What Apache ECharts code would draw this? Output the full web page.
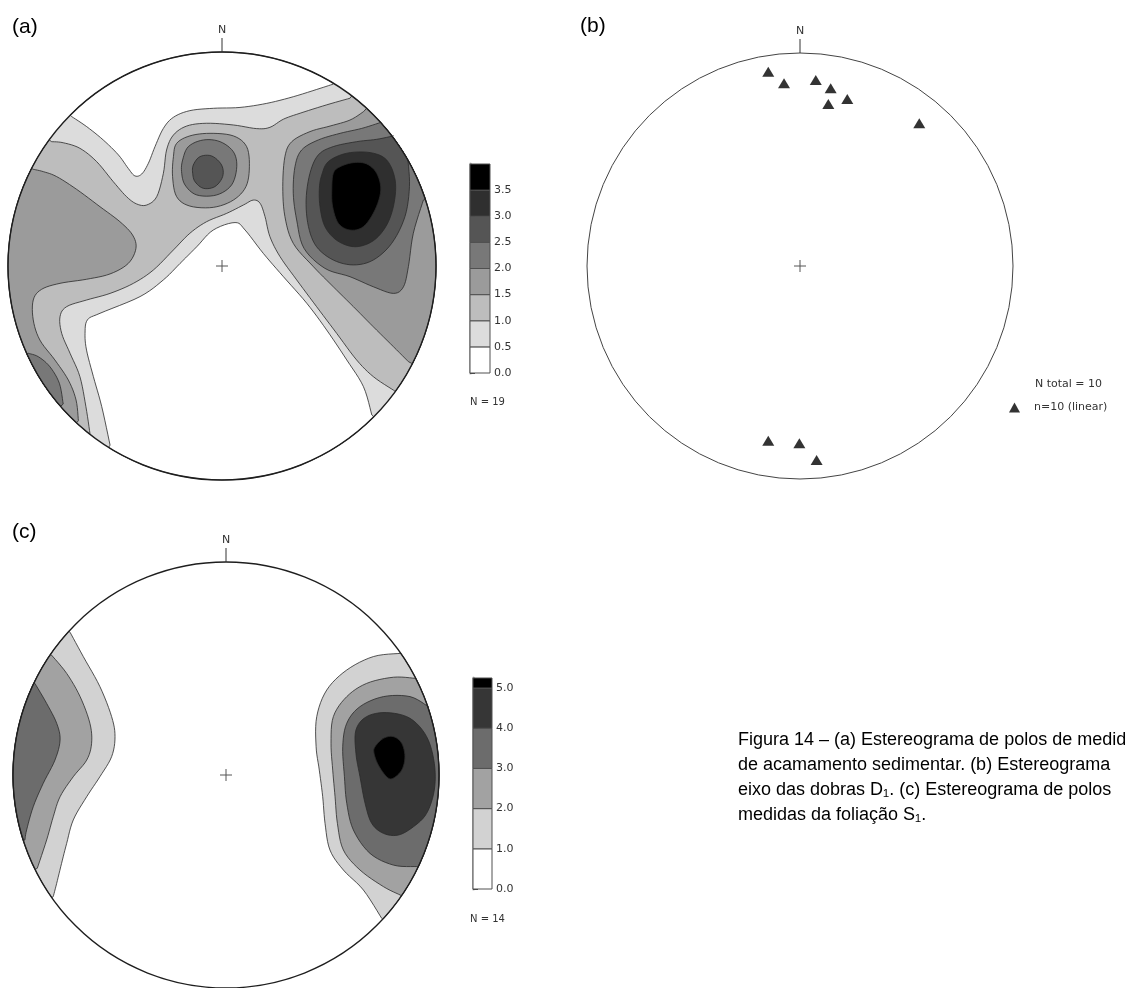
<!DOCTYPE html>
<html><head><meta charset="utf-8">
<script src="https://cdn.jsdelivr.net/npm/echarts@6.0.0/dist/echarts.min.js"></script>
<style>html,body{margin:0;padding:0;background:#fff;overflow:hidden}#chart{width:1125px;height:988px}</style>
</head><body><div id="chart"></div>
<script>
// ---------- DATA (stereonet units: radius = 100) ----------
// (a) poles to bedding: density contours
const levelColorsA = ['#ffffff','#dcdcdc','#bdbdbd','#9b9b9b','#787878','#555555','#2f2f2f','#000000'];
const legendBandsA = [[0,0.5,0],[0.5,1,1],[1,1.5,2],[1.5,2,3],[2,2.5,4],[2.5,3,5],[3,3.5,6],[3.5,4,7]];
const legendTicksA = [0,0.5,1,1.5,2,2.5,3,3.5];
const nLabelA = 'N = 19';
const aTopWhite = [[-70.2,69.8],[-63.2,65.1],[-55.5,58.9],[-48.4,51.9],[-43.8,45.6],[-40.7,42.1],[-37.5,43.0],[-34.4,48.0],[-31.3,55.8],[-27.4,64.3],[-22.7,69.5],[-15.0,72.6],[-4.0,73.7],[8.4,74.1],[20.9,76.0],[33.3,79.1],[45.8,83.0],[52.0,85.0]];
const aCentreWhite = [[70.0,-69.6],[66.1,-56.4],[58.3,-43.9],[48.9,-29.9],[39.6,-17.4],[28.7,-5.0],[19.3,5.9],[10.8,16.8],[6.1,20.3],[-4.1,16.8],[-11.8,9.0],[-19.6,1.2],[-27.4,-6.5],[-38.3,-14.3],[-57.0,-22.1],[-62.9,-25.2],[-64.0,-31.5],[-63.3,-39.3],[-60.1,-51.7],[-56.2,-65.7],[-52.3,-83.7]];
const aBandUpper = [[59.8,78.4],[48.9,75.3],[36.5,71.4],[28.7,68.6],[22.4,64.8],[16.2,64.2],[5.3,65.9],[-7.2,66.7],[-16.5,65.4],[-22.7,61.2],[-25.9,54.2],[-27.4,43.3],[-30.5,32.4],[-35.2,28.5],[-39.9,29.0],[-44.6,32.4],[-50.8,39.4],[-58.6,48.8],[-66.4,55.0],[-74.2,57.6],[-79.6,58.1]];
const aBandLower = [[-61.7,-78.2],[-63.6,-65.7],[-66.4,-51.7],[-71.0,-40.8],[-74.9,-31.5],[-75.7,-23.7],[-72.6,-19.0],[-63.3,-15.9],[-52.3,-12.8],[-41.4,-8.1],[-32.1,-1.9],[-22.7,7.5],[-15.0,15.3],[-7.2,20.7],[2.2,24.6],[10.0,28.5],[14.6,30.8],[17.8,29.3],[20.1,23.1],[22.4,13.7],[27.1,4.4],[34.9,-6.5],[44.2,-19.0],[53.6,-31.5],[62.9,-43.9],[70.7,-51.7],[80.1,-58.0]];
const aLeftL3 = [[-67.1,-72.3],[-68.2,-62.6],[-71.8,-53.3],[-78.1,-43.9],[-85.1,-34.6],[-88.2,-25.2],[-88.2,-15.9],[-84.3,-10.9],[-75.7,-8.1],[-63.3,-6.2],[-52.3,-3.7],[-43.8,1.2],[-40.2,8.3],[-41.8,14.5],[-47.7,20.7],[-57.0,27.7],[-67.9,35.8],[-77.3,41.8],[-83.5,44.1],[-88.2,45.2]];
const aSouthWestL4 = [[-74.2,-64.5],[-76.0,-54.8],[-80.4,-47.1],[-85.8,-42.4],[-90.5,-40.8]];
const aPeak1L3 = [[-22.7,51.1],[-21.2,57.3],[-15.0,60.8],[-5.6,62.0],[5.3,60.8],[11.5,55.8],[12.8,46.4],[11.2,37.1],[5.3,30.8],[-4.1,27.4],[-15.0,28.0],[-21.2,32.4],[-23.1,41.8]];
const aPeak1L4 = [[-18.4,49.5],[-15.7,55.8],[-8.7,58.9],[-0.9,58.1],[5.3,53.4],[6.9,46.4],[4.5,37.9],[-2.5,33.2],[-11.8,33.2],[-17.3,37.9],[-18.9,44.1]];
const aPeak1L5 = [[-13.4,47.2],[-10.3,51.1],[-4.8,51.4],[-0.2,47.2],[0.3,41.8],[-3.3,37.1],[-8.7,36.3],[-12.6,39.4],[-13.7,43.3]];
const aPeak2L3 = [[66.1,72.1],[59.8,68.2],[50.5,65.4],[41.1,62.8],[32.6,58.1],[29.4,51.1],[28.4,37.1],[29.4,23.1],[33.3,10.6],[42.7,-0.3],[52.0,-9.7],[61.4,-19.0],[70.7,-28.4],[80.1,-37.7],[87.1,-44.7]];
const aPeak2L4 = [[73.9,67.0],[65.3,64.3],[55.2,62.0],[45.0,58.9],[37.2,54.2],[34.1,46.4],[33.3,34.0],[34.9,21.5],[38.3,8.3],[48.1,-1.1],[59.8,-5.0],[70.7,-9.7],[80.1,-12.8],[84.8,-9.7],[87.1,-0.3],[89.4,15.3],[94.1,30.8]];
const aPeak2L5 = [[80.1,60.8],[72.3,59.2],[62.9,58.1],[52.0,55.8],[45.0,51.9],[41.1,43.3],[39.3,30.8],[40.4,18.4],[44.2,9.0],[52.0,2.8],[61.4,0.5],[70.7,2.8],[79.3,10.6],[85.5,23.1],[87.6,37.1],[86.9,49.5]];
const aPeak2L6 = [[46.6,42.5],[49.7,48.8],[58.3,52.7],[69.2,53.0],[77.0,49.5],[80.9,40.2],[80.4,29.3],[77.0,19.2],[70.7,11.8],[62.2,9.0],[53.9,11.8],[48.1,18.4],[45.8,27.7],[45.5,36.3]];
const aPeak2L7 = [[52.0,43.3],[55.2,46.4],[61.4,48.3],[67.6,47.7],[72.3,43.3],[74.2,35.5],[71.5,26.2],[66.1,18.4],[59.8,16.8],[54.4,19.9],[51.7,27.7],[51.3,35.5]];

// (b) fold axes D1 (lineations)
const bLineations = [[-14.9,91.2],[-7.5,85.8],[7.4,87.3],[14.4,83.4],[13.3,76.1],[22.2,78.4],[56.0,67.0],[-14.9,-82.0],[-0.3,-83.2],[7.8,-91.1]];
const bSeriesName = 'n=10 (linear)';
const bTotalLabel = 'N total = 10';

// (c) poles to foliation S1
const levelColorsC = ['#ffffff','#d2d2d2','#a2a2a2','#6c6c6c','#363636','#000000'];
const legendBandsC = [[0,1,0],[1,2,1],[2,3,2],[3,4,3],[4,5,4],[5,5.25,5]];
const legendTicksC = [0,1,2,3,4,5];
const nLabelC = 'N = 14';
const cLeftL1 = [[-81.1,-57.1],[-79.5,-50.9],[-77.2,-41.5],[-74.8,-32.1],[-71.7,-21.1],[-65.4,-10.2],[-59.2,-0.8],[-53.7,8.6],[-52.1,18.0],[-53.7,27.4],[-59.2,41.5],[-67.0,55.6],[-73.2,67.0]];
const cLeftL2 = [[-88.6,-43.8],[-84.2,-30.5],[-81.1,-19.6],[-77.9,-10.2],[-71.7,-0.8],[-65.4,7.0],[-63.1,14.9],[-63.9,24.3],[-68.5,36.8],[-74.8,47.7],[-81.9,56.3]];
const cLeftL3 = [[-94.4,-30.5],[-93.6,-25.8],[-90.5,-14.9],[-85.8,-3.9],[-80.3,7.0],[-77.9,16.4],[-79.5,24.3],[-84.2,33.6],[-89.7,43.0]];
const cRightL1 = [[81.7,57.1],[69.2,55.6],[56.7,49.3],[47.3,39.9],[42.6,27.4],[42.3,13.3],[43.8,2.3],[45.4,-10.2],[46.5,-22.7],[48.8,-35.2],[55.1,-44.6],[64.5,-54.0],[73.1,-67.3]];
const cRightL2 = [[88.7,45.4],[78.6,45.9],[66.0,43.0],[56.7,36.8],[50.4,27.4],[49.3,14.9],[50.1,2.3],[51.2,-10.2],[52.3,-22.7],[55.1,-35.2],[62.9,-44.6],[73.9,-52.4],[81.7,-56.3]];
const cRightL3 = [[95.0,32.1],[86.4,36.8],[73.9,36.8],[62.9,32.1],[56.7,24.3],[54.8,13.3],[55.6,-0.8],[56.7,-13.3],[59.8,-25.8],[67.6,-36.8],[78.6,-42.3],[89.5,-43.0]];
const cRightL4 = [[61.0,21.1],[66.0,27.4],[75.4,29.3],[86.4,26.6],[94.2,18.0],[97.8,5.5],[97.8,-7.0],[94.2,-18.0],[88.0,-24.3],[80.9,-28.2],[73.9,-27.4],[68.4,-22.7],[65.3,-13.3],[62.9,-0.8],[61.0,10.2]];
const cRightL5 = [[70.0,13.3],[73.9,17.2],[78.6,18.0],[82.5,14.9],[84.0,8.6],[82.5,2.3],[78.3,-1.6],[75.4,-0.8],[71.5,4.7],[69.5,10.2]];

const captionLines = [
  'Figura 14 \u2013 (a) Estereograma de polos de medidas',
  'de acamamento sedimentar. (b) Estereograma',
  'eixo das dobras D\u2081. (c) Estereograma de polos',
  'medidas da folia\u00e7\u00e3o S\u2081.'
];

// region lists: parts are joined along the primitive circle (counter-clockwise)
const regionsA = [
  {disk:true, lv:1},
  {lv:0, parts:[aTopWhite]},
  {lv:0, parts:[aCentreWhite]},
  {lv:2, parts:[aBandUpper, aBandLower]},
  {lv:3, parts:[aLeftL3]},
  {lv:4, parts:[aSouthWestL4]},
  {lv:3, parts:[aPeak1L3], closed:true},
  {lv:4, parts:[aPeak1L4], closed:true},
  {lv:5, parts:[aPeak1L5], closed:true},
  {lv:3, parts:[aPeak2L3]},
  {lv:4, parts:[aPeak2L4]},
  {lv:5, parts:[aPeak2L5]},
  {lv:6, parts:[aPeak2L6], closed:true},
  {lv:7, parts:[aPeak2L7], closed:true}
];
const regionsC = [
  {disk:true, lv:0},
  {lv:1, parts:[cLeftL1]},
  {lv:2, parts:[cLeftL2]},
  {lv:3, parts:[cLeftL3]},
  {lv:1, parts:[cRightL1]},
  {lv:2, parts:[cRightL2]},
  {lv:3, parts:[cRightL3]},
  {lv:4, parts:[cRightL4], closed:true},
  {lv:5, parts:[cRightL5], closed:true}
];

// ---------- helpers ----------
const R = 100;
function catmull(pts, closed) {
  const n = pts.length, out = [];
  const get = i => closed ? pts[(i + n) % n] : pts[Math.max(0, Math.min(n - 1, i))];
  const segs = closed ? n : n - 1, sub = 6;
  for (let i = 0; i < segs; i++) {
    const p0 = get(i - 1), p1 = get(i), p2 = get(i + 1), p3 = get(i + 2);
    for (let t = 0; t < sub; t++) {
      const s = t / sub, s2 = s * s, s3 = s2 * s;
      out.push([0, 1].map(k => 0.5 * (2 * p1[k] + (-p0[k] + p2[k]) * s + (2 * p0[k] - 5 * p1[k] + 4 * p2[k] - p3[k]) * s2 + (-p0[k] + 3 * p1[k] - 3 * p2[k] + p3[k]) * s3)));
    }
  }
  if (!closed) out.push(pts[n - 1]);
  return out;
}
function arcPts(p, q) {
  let a0 = Math.atan2(p[1], p[0]), a1 = Math.atan2(q[1], q[0]);
  while (a1 < a0) a1 += 2 * Math.PI;
  const n = Math.max(1, Math.ceil((a1 - a0) / (Math.PI / 180)));
  const out = [];
  for (let k = 0; k <= n; k++) { const a = a0 + (a1 - a0) * k / n; out.push([R * Math.cos(a), R * Math.sin(a)]); }
  return out;
}
function outline(reg) {
  if (reg.closed) return catmull(reg.parts[0], true);
  const out = [], P = reg.parts;
  for (let i = 0; i < P.length; i++) {
    const sm = catmull(P[i], false);
    out.push(...sm);
    const nx = P[(i + 1) % P.length];
    out.push(...arcPts(P[i][P[i].length - 1], nx[0]));
  }
  return out;
}
function contourSeries(g, regions, colors) {
  return {
    type: 'custom', xAxisIndex: g, yAxisIndex: g, silent: true, z: 1,
    data: regions.map((r, i) => [0, 0, i]),
    renderItem: (params, api) => {
      const reg = regions[params.dataIndex];
      if (reg.disk) {
        const c = api.coord([0, 0]), t = api.coord([0, R]);
        return {type: 'circle', z2: 0, shape: {cx: c[0], cy: c[1], r: c[1] - t[1]}, style: {fill: colors[reg.lv], stroke: null}};
      }
      const pts = outline(reg).map(p => api.coord(p));
      return {type: 'polygon', z2: params.dataIndex, shape: {points: pts}, style: {fill: colors[reg.lv], stroke: '#2a2a2a', lineWidth: 0.8, lineJoin: 'round'}};
    }
  };
}
function frameSeries(g, stroke, lw) {
  return {
    type: 'custom', xAxisIndex: g, yAxisIndex: g, silent: true, z: 3, data: [[0, 0]],
    renderItem: (params, api) => {
      const c = api.coord([0, 0]), t = api.coord([0, R]);
      const r = c[1] - t[1];
      return {type: 'group', children: [
        {type: 'circle', shape: {cx: c[0], cy: c[1], r: r}, style: {fill: 'none', stroke: stroke, lineWidth: lw}},
        {type: 'line', shape: {x1: c[0] - 6, y1: c[1], x2: c[0] + 6, y2: c[1]}, style: {stroke: '#555', lineWidth: 1}},
        {type: 'line', shape: {x1: c[0], y1: c[1] - 6, x2: c[0], y2: c[1] + 6}, style: {stroke: '#555', lineWidth: 1}},
        {type: 'line', shape: {x1: t[0], y1: t[1], x2: t[0], y2: t[1] - 14}, style: {stroke: '#333', lineWidth: 1}},
        {type: 'text', x: t[0], y: t[1] - 16, style: {text: 'N', fill: '#333', font: '11px "DejaVu Sans"', align: 'center', verticalAlign: 'bottom'}}
      ]};
    }
  };
}
function legendBandSeries(g, bands, colors) {
  return {
    type: 'custom', xAxisIndex: g, yAxisIndex: g, silent: true, z: 2,
    data: bands,
    renderItem: (params, api) => {
      const p1 = api.coord([0, api.value(1)]), p2 = api.coord([1, api.value(0)]);
      return {type: 'rect', shape: {x: p1[0], y: p1[1], width: p2[0] - p1[0], height: p2[1] - p1[1]},
        style: {fill: colors[api.value(2)], stroke: '#505050', lineWidth: 1}};
    }
  };
}
function legendAxis(g, max, ticks, interval) {
  return {
    gridIndex: g, type: 'value', min: 0, max: max, interval: interval, position: 'right', offset: 2,
    axisLine: {show: true, lineStyle: {color: '#b8b8b8', width: 3}},
    axisTick: {show: true, length: 5, customValues: ticks, lineStyle: {color: '#444', width: 1}},
    axisLabel: {show: true, customValues: ticks, margin: 2, color: '#333', fontSize: 11, fontFamily: 'DejaVu Sans',
      formatter: v => Number(v).toFixed(1)},
    splitLine: {show: false}
  };
}

// ---------- chart ----------
const chart = echarts.init(document.getElementById('chart'), null, {renderer: 'canvas'});
const hiddenAxis = (g, mn, mx) => ({gridIndex: g, type: 'value', min: mn, max: mx, show: false, splitLine: {show: false}});
const font18 = '18px "Liberation Sans"';
const option = {
  backgroundColor: '#ffffff',
  animation: false,
  grid: [
    {left: 8, top: 52, width: 428, height: 428},
    {left: 587, top: 53, width: 426, height: 426},
    {left: 13, top: 562, width: 426, height: 426},
    {left: 470, top: 164, width: 20, height: 209},
    {left: 473, top: 678, width: 19, height: 211}
  ],
  xAxis: [hiddenAxis(0, -R, R), hiddenAxis(1, -R, R), hiddenAxis(2, -R, R), hiddenAxis(3, 0, 1), hiddenAxis(4, 0, 1)],
  yAxis: [hiddenAxis(0, -R, R), hiddenAxis(1, -R, R), hiddenAxis(2, -R, R),
          legendAxis(3, 4, legendTicksA, 0.5), legendAxis(4, 5.25, legendTicksC, 1)],
  legend: {
    data: [bSeriesName], left: 1004, top: 397, icon: 'triangle', itemWidth: 11, itemHeight: 10,
    selectedMode: false, textStyle: {fontFamily: 'DejaVu Sans', fontSize: 11, color: '#333', padding: [0, 0, 0, 9]}
  },
  series: [
    contourSeries(0, regionsA, levelColorsA),
    frameSeries(0, '#1e1e1e', 1.4),
    {name: bSeriesName, type: 'scatter', xAxisIndex: 1, yAxisIndex: 1, data: bLineations, symbol: 'triangle',
     symbolSize: [12, 10], itemStyle: {color: '#000'}, z: 4, silent: true},
    frameSeries(1, '#444', 1),
    contourSeries(2, regionsC, levelColorsC),
    frameSeries(2, '#1e1e1e', 1.4),
    legendBandSeries(3, legendBandsA, levelColorsA),
    legendBandSeries(4, legendBandsC, levelColorsC)
  ],
  graphic: [
    {type: 'text', x: 12, y: 27, style: {text: '(a)', font: '21px "Liberation Sans"', fill: '#000', verticalAlign: 'middle'}},
    {type: 'text', x: 580, y: 26, style: {text: '(b)', font: '21px "Liberation Sans"', fill: '#000', verticalAlign: 'middle'}},
    {type: 'text', x: 12, y: 532, style: {text: '(c)', font: '21px "Liberation Sans"', fill: '#000', verticalAlign: 'middle'}},
    {type: 'text', x: 470, y: 402, style: {text: nLabelA, font: '10px "DejaVu Sans"', fill: '#333', verticalAlign: 'middle'}},
    {type: 'text', x: 470, y: 919, style: {text: nLabelC, font: '10px "DejaVu Sans"', fill: '#333', verticalAlign: 'middle'}},
    {type: 'text', x: 1035, y: 384, style: {text: bTotalLabel, font: '11px "DejaVu Sans"', fill: '#333', verticalAlign: 'middle'}},
    ...captionLines.map((t, i) => ({type: 'text', x: 738, y: 740 + i * 25, style: {text: t, font: font18, fill: '#000', verticalAlign: 'middle'}}))
  ]
};
chart.setOption(option);
</script></body></html>
